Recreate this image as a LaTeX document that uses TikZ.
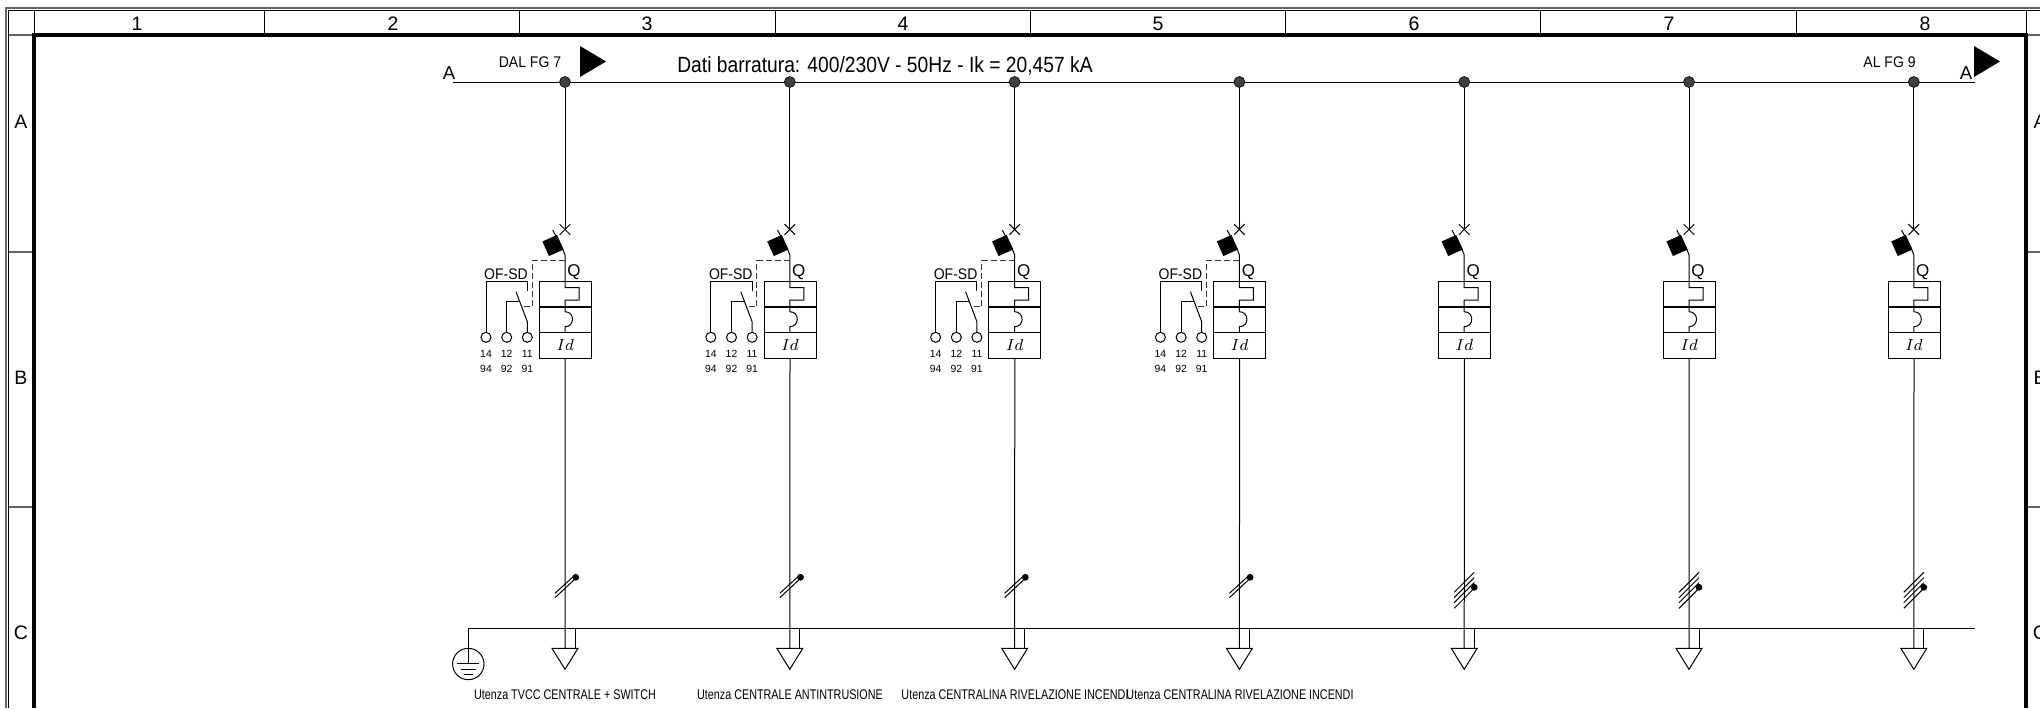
\documentclass[tikz,border=0pt]{standalone}
\usepackage{fontspec}
\setmainfont{Liberation Sans}
\usetikzlibrary{positioning}
\usetikzlibrary{calc}

\begin{document}
\begin{tikzpicture}[x=0.5pt,y=-0.5pt]
\useasboundingbox (0,0) rectangle (2040,708);

\tikzstyle{wire}=[line width=0.5pt,black]
\tikzstyle{frame}=[line width=2.4pt,black]
\tikzstyle{sheet}=[line width=0.6pt,black!60]
\tikzstyle{dash line}=[line width=0.5pt,dash pattern=on 3pt off 1.5pt,black!80]
\tikzstyle{sep}=[line width=0.8pt,black]
\tikzstyle{ref}=[inner sep=0pt,font=\fontsize{9.75pt}{11pt}\selectfont]
\tikzstyle{tag}=[inner sep=0pt,xscale=0.91,font=\fontsize{7.7pt}{9pt}\selectfont]
\tikzstyle{load}=[inner sep=0pt,xscale=0.77,font=\fontsize{7pt}{8pt}\selectfont]
\tikzstyle{pinlab}=[inner sep=0pt,font=\fontsize{5.2pt}{6pt}\selectfont]
\tikzstyle{cell}=[draw,line width=0.5pt,outer sep=0pt,inner sep=0pt,minimum width=26pt,minimum height=12.85pt]
\tikzstyle{term}=[draw,circle,line width=0.5pt,outer sep=0pt,inner sep=0pt,minimum size=5pt]

   %draw sheet border
\draw[sheet] (6,708) -- (6,8) -- (2040,8);
\draw[wire] (8.5,708) -- (8.5,10.5) -- (2040,10.5);
\draw[sheet] (8.5,35) -- (34,35);
\draw[sheet] (2026,35) -- (2040,35);
\draw[sheet] (8.5,252) -- (34,252);
\draw[sheet] (8.5,507) -- (34,507);
\draw[sheet] (2026,252) -- (2040,252);
\draw[sheet] (2026,507) -- (2040,507);
\foreach \xc in {34,264,519.5,775,1030,1285.5,1540.5,1796.5,2026}
  \draw[wire] (\xc,10.5) -- (\xc,35);
\draw[frame] (34,708) -- (34,35) -- (2026,35) -- (2026,708);

\foreach \n/\xc in {1/137,2/393,3/647,4/903,5/1158,6/1414,7/1669,8/1925}
  \node (col\n) [ref] at (\xc,23.5) {\n};
\foreach \r/\yc in {A/122,B/378,C/633}{
  \node (rowl\r) [ref] at (21,\yc) {\r};
  \node (rowr\r) [ref] at (2040,\yc) {\r};
}

   %draw busbars
\coordinate (busL) at (453,82);
\coordinate (busR) at (1975,82);
\coordinate (peL) at (468.3,628.3);
\coordinate (peR) at (1975,628.3);
\draw[wire] (busL) -- (busR);
\node (busA1) [ref,font=\fontsize{9.3pt}{11pt}\selectfont] at (449,73) {A};
\node (busA2) [ref,font=\fontsize{9.3pt}{11pt}\selectfont] at (1966,73) {A};
\node (fromfg) [tag] at (530,62) {DAL FG 7};
\node (tofg) [tag] at (1889.5,62) {AL FG 9};
\node (title) [inner sep=0pt,xscale=0.875,font=\fontsize{11pt}{12pt}\selectfont] at (885,66) {Dati barratura: 400/230V - 50Hz - Ik = 20,457 kA};
\fill (580,46) -- (606,61.5) -- (580,77) -- cycle;
\fill (1974,46) -- (2000,61.5) -- (1974,77) -- cycle;

   %draw feeders
\foreach \n/\xc in {1/565,2/789.8,3/1014.6,4/1239.4,5/1464.2,6/1689,7/1913.8}{
\begin{scope}[shift={(\xc,0)}]
  \node (dot\n) [circle,fill=black!75,draw=black,line width=0.3pt,inner sep=0pt,minimum size=5.5pt] at (0,82) {};
  \coordinate (cross\n) at (0,229.5);
  \node (blade\n) [fill=black,inner sep=0pt,minimum size=8pt,rotate=24] at (-12,245.5) {};
  \node (qlab\n) [inner sep=0pt,font=\fontsize{8.5pt}{9pt}\selectfont] at (9,272) {Q};
  \node (mag\n) [cell] at (0.2,294) {};
  \node (the\n) [cell,below=0pt of mag\n] {};
  \node (id\n) [cell,below=0pt of the\n] {\fontsize{8pt}{9pt}\selectfont$Id$};
  \draw[wire] (dot\n) -- (cross\n);
  \draw[wire] ($(cross\n)+(-5.3,-5.3)$) -- ($(cross\n)+(5.3,5.3)$);
  \draw[wire] ($(cross\n)+(-5.3,5.3)$) -- ($(cross\n)+(5.3,-5.3)$);
  \draw[wire] (-12.3,230) -- (-2.7,248) -- (0,255) -- (0,287.7) -- (14,287.7) -- (14,300) -- (0,300) -- (0,311.7)
     .. controls (10,311.7) and (10,326.7) .. (0,326.7) -- (0,332.3);
  \draw[sep] (mag\n.south west) -- (mag\n.south east);
  \draw[sep] (the\n.south west) -- (the\n.south east);
  \coordinate (petop\n) at (0,648.3);
  \draw[wire] (id\n.south) -- (petop\n);
  \draw[wire] (10,628.3) -- (10,648.3);
  \draw[wire] (-13,648.3) -- (13,648.3) -- (0,669.3) -- cycle;
\end{scope}
}

   %auxiliary contacts
\foreach \n/\xc in {1/565,2/789.8,3/1014.6,4/1239.4}{
\begin{scope}[shift={(\xc,0)}]
  \node (ofsd\n) [tag] at (-59,274.3) {OF-SD};
  \node (ta\n) [term] at (-79,337.3) {};
  \node (tb\n) [term] at (-58.3,337.3) {};
  \node (tc\n) [term] at (-37.7,337.3) {};
  \draw[wire] (ta\n) -- (-79,281) -- (-37.7,281) -- (-37.7,291);
  \draw[wire] (tb\n) -- (-58.3,301.7) -- (-45.5,301.7);
  \draw[wire] (tc\n) -- (-37.7,321.7) -- (-49,291.7);
  \draw[dash line] (0,260.7) -- (-33,260.7) -- (-33,306.7) -- (-42,306.7);
  \node (pa\n) [pinlab] at (-79,354) {14};
  \node (pb\n) [pinlab] at (-58.3,354) {12};
  \node (pc\n) [pinlab] at (-37.7,354) {11};
  \node (pd\n) [pinlab] at (-79,369.3) {94};
  \node (pe\n) [pinlab] at (-58.3,369.3) {92};
  \node (pf\n) [pinlab] at (-37.7,369.3) {91};
  %double slash on the cable
  \draw[wire] (-10,593.3) -- (10,575);
  \draw[wire] (-10,597.7) -- (10,579);
  \node (core\n) [circle,fill=black,inner sep=0pt,minimum size=3.4pt] at (10.7,577.3) {};
\end{scope}
}
\foreach \n/\xc in {5/1464.2,6/1689,7/1913.8}{
\begin{scope}[shift={(\xc,0)}]
  \draw[wire] (-10,592.3) -- (10,572.3);
  \draw[wire] (-10,597.7) -- (10,577.7);
  \draw[wire] (-10,602.7) -- (10,582.7);
  \draw[wire] (-10,608.3) -- (10,588.3);
  \node (core\n) [circle,fill=black,inner sep=0pt,minimum size=3.4pt] at (10,587.3) {};
\end{scope}
}

   %earth bar
\draw[wire] (peL) -- (peR);
\node (earth) [draw,circle,line width=0.5pt,inner sep=0pt,minimum size=15.7pt] at (468.3,664) {};
\draw[wire] (peL) -- (468.3,663.3);
\draw[wire] (457.3,663.3) -- (479.3,663.3);
\draw[wire] (460.6,669) -- (476,669);
\draw[wire] (464,674.3) -- (472.6,674.3);

\node (load1) [load] at (565,695) {Utenza TVCC CENTRALE + SWITCH};
\node (load2) [load] at (790,695) {Utenza CENTRALE ANTINTRUSIONE};
\node (load3) [load] at (1015,695) {Utenza CENTRALINA RIVELAZIONE INCENDI};
\node (load4) [load] at (1240,695) {Utenza CENTRALINA RIVELAZIONE INCENDI};
\end{tikzpicture}
\end{document}
